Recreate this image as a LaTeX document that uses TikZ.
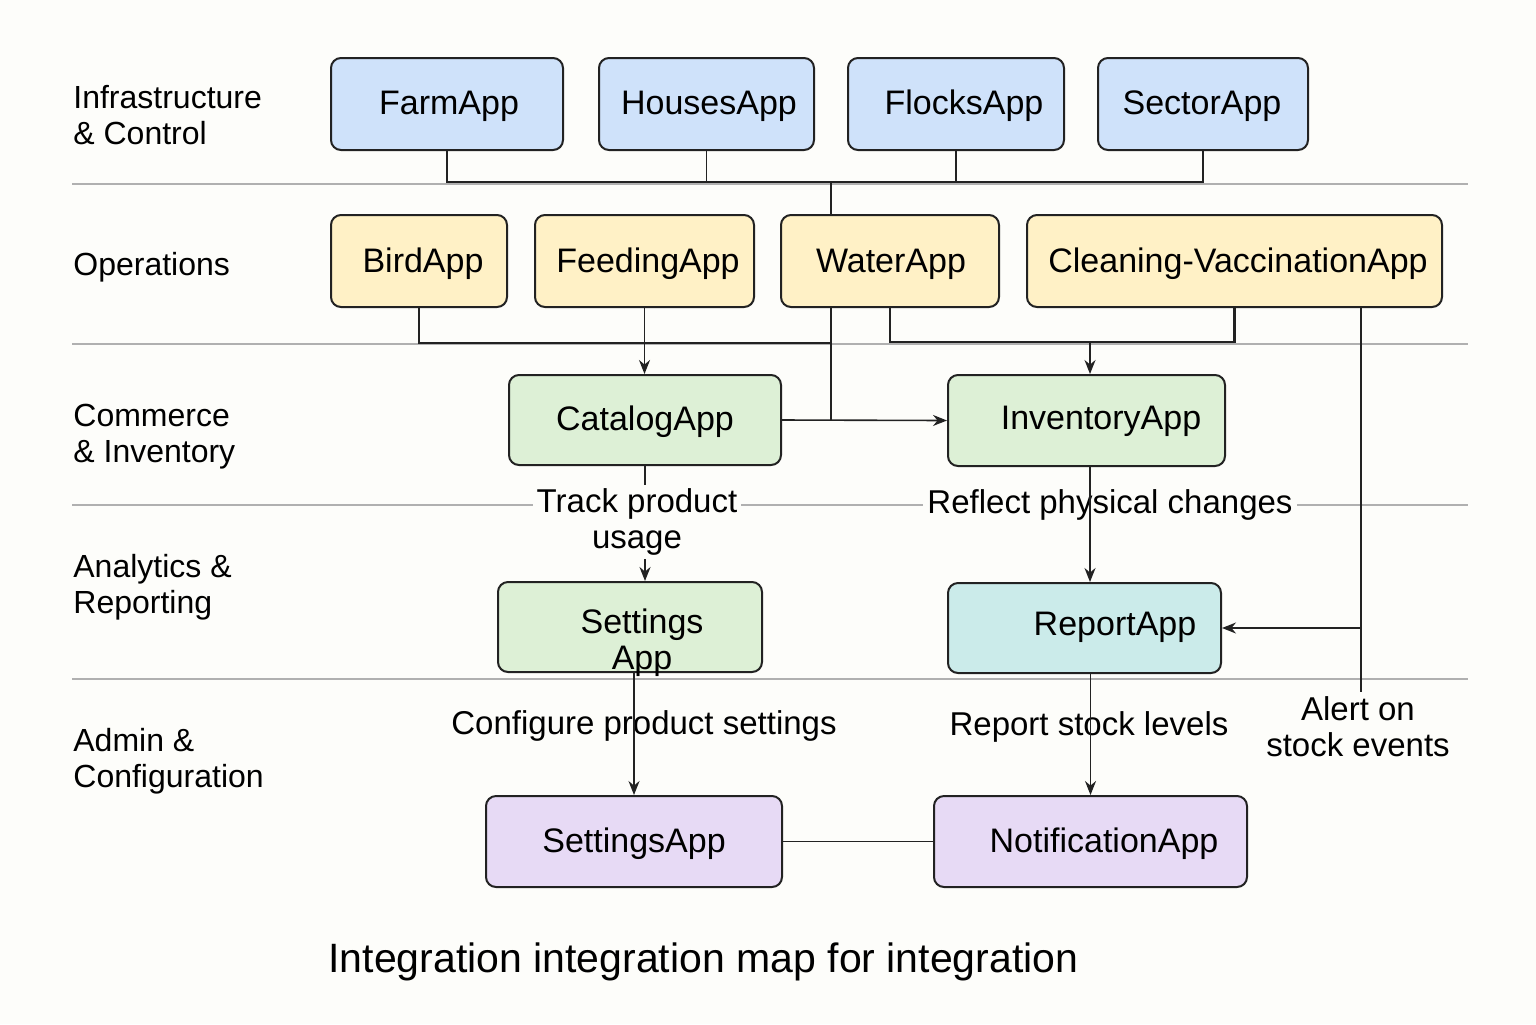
\documentclass[tikz,border=0pt]{standalone}
\usepackage{fontspec}
\setmainfont{Liberation Sans}
\usetikzlibrary{arrows.meta}
\definecolor{bg}{HTML}{FDFDFA}
\definecolor{cblue}{HTML}{CFE2FA}
\definecolor{cyellow}{HTML}{FFF1C6}
\definecolor{cgreen}{HTML}{DDF0D6}
\definecolor{cteal}{HTML}{CBEBEA}
\definecolor{cpurple}{HTML}{E7DAF5}
\definecolor{edgec}{HTML}{222222}
\definecolor{sepc}{HTML}{B0B0B0}
\begin{document}
\begin{tikzpicture}[x=0.5pt,y=-0.5pt,
  appbox/.style={draw=edgec, line width=1pt, rounded corners=5pt, inner sep=0pt, minimum height=46pt},
  apptext/.style={font=\fontsize{17}{18}\selectfont, text=black, inner sep=0pt, align=center},
  rowlbl/.style={font=\fontsize{16}{18}\selectfont, anchor=west, align=left, inner sep=0pt},
  elbl/.style={font=\fontsize{16.5}{18}\selectfont, align=center, inner sep=2pt},
  sepline/.style={draw=sepc, line width=0.6pt},
  conn/.style={draw=edgec, line width=0.8pt},
  bus/.style={draw=edgec, line width=1.2pt},
  arr/.style={conn, -{Stealth[length=7pt,width=5.5pt]}}
]
\path[fill=bg] (0,0) rectangle (1536,1024);

% separators
\draw[sepline] (72,184) -- (1468,184);
\draw[sepline] (72,344) -- (1468,344);
\draw[sepline] (72,505) -- (1468,505);
\draw[sepline] (72,679) -- (1468,679);

% row labels
\node[rowlbl] (r1) at (73,115) {Infrastructure\\\& Control};
\node[rowlbl] (r2) at (73,267) {Operations};
\node[rowlbl] (r3) at (73,437) {Commerce\\\& Inventory};
\node[rowlbl] (r4) at (73,587) {Analytics \&\\Reporting};
\node[rowlbl] (r5) at (73,761) {Admin \&\\Configuration};

% row 1
\node[appbox, fill=cblue, minimum width=116pt] (farm) at (447,104) {};
\node[appbox, fill=cblue, minimum width=107.5pt] (houses) at (706.5,104) {};
\node[appbox, fill=cblue, minimum width=108pt] (flocks) at (956,104) {};
\node[appbox, fill=cblue, minimum width=105pt] (sector) at (1203,104) {};
\node[apptext] (tfarm) at (449,106) {FarmApp};
\node[apptext] (thouses) at (709,106) {HousesApp};
\node[apptext] (tflocks) at (964,106) {FlocksApp};
\node[apptext] (tsector) at (1202,106) {SectorApp};

% row 2
\node[appbox, fill=cyellow, minimum width=88pt] (bird) at (419,261) {};
\node[appbox, fill=cyellow, minimum width=109.5pt] (feeding) at (644.5,261) {};
\node[appbox, fill=cyellow, minimum width=109pt] (water) at (890,261) {};
\node[appbox, fill=cyellow, minimum width=207.5pt] (cleaning) at (1234.5,261) {};
\node[apptext] (tbird) at (423,264) {BirdApp};
\node[apptext] (tfeeding) at (648,264) {FeedingApp};
\node[apptext] (twater) at (891,264) {WaterApp};
\node[apptext] (tcleaning) at (1238,264) {Cleaning-VaccinationApp};

% row 3
\node[appbox, fill=cgreen, minimum width=136pt, minimum height=45pt] (catalog) at (645,420) {};
\node[appbox, fill=cgreen, minimum width=138.5pt, minimum height=45.5pt] (inventory) at (1086.5,420.5) {};
\node[apptext] (tcatalog) at (645,422) {CatalogApp};
\node[apptext] (tinventory) at (1101,421) {InventoryApp};

% row 4
\node[appbox, fill=cgreen, minimum width=132pt, minimum height=45pt] (setA) at (630,627) {};
\node[appbox, fill=cteal, minimum width=136.5pt, minimum height=45pt] (report) at (1084.5,628) {};
\node[apptext] (tsetA) at (642,643) {Settings\\App};
\node[apptext] (treport) at (1115,627) {ReportApp};

% row 5
\node[appbox, fill=cpurple, minimum width=148pt, minimum height=45.5pt] (setC) at (634,841.5) {};
\node[appbox, fill=cpurple, minimum width=156.5pt, minimum height=45.5pt] (notif) at (1090.5,841.5) {};
\node[apptext] (tsetC) at (634,844) {SettingsApp};
\node[apptext] (tnotif) at (1104,844) {NotificationApp};

% coordinates
\coordinate (busA) at (831,182);
\coordinate (busB) at (831,343);
\coordinate (busC) at (1090,342);
\coordinate (axis) at (1361,0);

% row 1 -> row 2
\draw[bus] (farm.south) |- (busA) -| (sector.south);
\draw[conn] (houses.south) -- (houses.south |- busA);
\draw[conn] (flocks.south) -- (flocks.south |- busA);
\draw[conn] (busA) -- (busA |- water.north);

% row 2 -> row 3
\draw[bus] (bird.south) |- (busB);
\draw[conn] (busA |- water.south) -- (busA |- catalog.east);
\draw[arr] (catalog.east) -- (inventory.west);
\draw[arr] (feeding.south) -- (feeding.south |- catalog.north);
\draw[bus] (water.south) |- (busC) -| (cleaning.south);
\draw[arr] (busC) -- (busC |- inventory.north);

% alert line
\node[elbl] (alert) at (1358,727) {Alert on\\stock events};
\draw[conn] (cleaning.south -| axis) -- (alert.north -| axis);
\draw[arr] (report.east -| axis) -- (report.east);

% row 3 -> row 4
\draw[arr] (catalog.south) -- (catalog.south |- setA.north);
\node[elbl, fill=bg] (ltrack) at (637,522) {Track product\\usage};
\node[elbl, fill=bg] (lreflect) at (1110,505) {Reflect physical changes};
\draw[arr] (busC |- inventory.south) -- (busC |- report.north);

% row 4 -> row 5
\node[elbl] (lconf) at (644,726) {Configure product settings};
\node[elbl] (lstock) at (1089,727) {Report stock levels};
\draw[arr] (setC.north |- setA.south) -- (setC.north);
\draw[arr] (notif.north |- report.south) -- (notif.north);
\draw[conn] (setC.east) -- (notif.west);

% title
\node[font=\fontsize{20.5}{24}\selectfont, inner sep=0pt] (title) at (703.5,962) {Integration integration map for integration};
\end{tikzpicture}
\end{document}
